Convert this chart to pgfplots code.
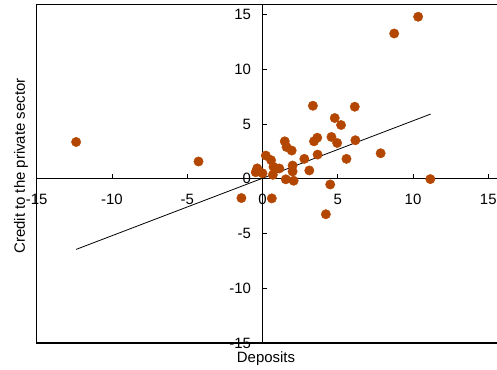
\documentclass[border=0pt]{standalone}
\usepackage{fontspec}
\setmainfont{Liberation Sans}
\usepackage{pgfplots}
\pgfplotsset{compat=1.18}
\definecolor{dotc}{RGB}{179,70,0}
\begin{document}
\begin{tikzpicture}[x=1bp,y=1bp]
\begin{axis}[
  at={(36.7bp,27bp)}, anchor=south west,
  scale only axis,
  width=460.3bp, height=338.3bp,
  xmin=-15, xmax=15.58, ymin=-15, ymax=15.9,
  axis lines=middle,
  axis line style={-, line width=1.2bp},
  hide obscured x ticks=false, hide obscured y ticks=false,
  xtick={-15,-10,-5,0,5,10,15},
  ytick={-15,-10,-5,0,5,10,15},
  tick align=inside,
  major tick length=5bp,
  tick style={line width=0.9bp, black},
  /pgf/number format/assume math mode=true,
  ticklabel style={font=\fontsize{15}{18}\selectfont},
  xticklabel style={anchor=north, yshift=-12bp},
  yticklabel style={anchor=east, xshift=-8bp},
  clip=false,
]
% outer frame: left, top and bottom edges
\draw[line width=1.2bp] (rel axis cs:1,1) -- (rel axis cs:0,1) -- (rel axis cs:0,0) -- (rel axis cs:1,0);
\addplot[only marks, mark=*, mark size=4.7bp, color=dotc, mark options={draw=dotc, fill=dotc}] coordinates {
  (10.34,14.8) (8.75,13.27) (3.35,6.67) (6.13,6.58) (4.80,5.55) (5.22,4.91)
  (3.64,3.75) (3.42,3.42) (4.58,3.82) (4.96,3.27) (6.17,3.52) (1.48,3.42)
  (1.6,2.9) (1.94,2.58) (3.66,2.21) (7.85,2.33) (5.58,1.82) (2.78,1.82)
  (0.22,2.12) (0.57,1.7) (0.73,1.1) (1.12,0.94) (2.0,1.21) (2.0,0.67)
  (3.11,0.76) (0.69,0.36) (-0.35,0.95) (-0.45,0.6) (0.0,0.5) (1.55,-0.05)
  (2.07,-0.18) (4.5,-0.52) (11.15,-0.03) (4.21,-3.24) (0.62,-1.79)
  (-1.4,-1.76) (-12.38,3.36) (-4.25,1.58)
};
% fitted trend line
\addplot[black, line width=0.8bp] coordinates {(-12.38,-6.45) (11.17,5.91)};
\end{axis}
\node[rotate=90, font=\fontsize{15}{18}\selectfont] at (21bp,204bp) {Credit to the private sector};
\node[font=\fontsize{15}{18}\selectfont] at (266bp,11bp) {Deposits};
\pgfresetboundingbox
\useasboundingbox (0,0) rectangle (497bp,370bp);
\end{tikzpicture}
\end{document}
